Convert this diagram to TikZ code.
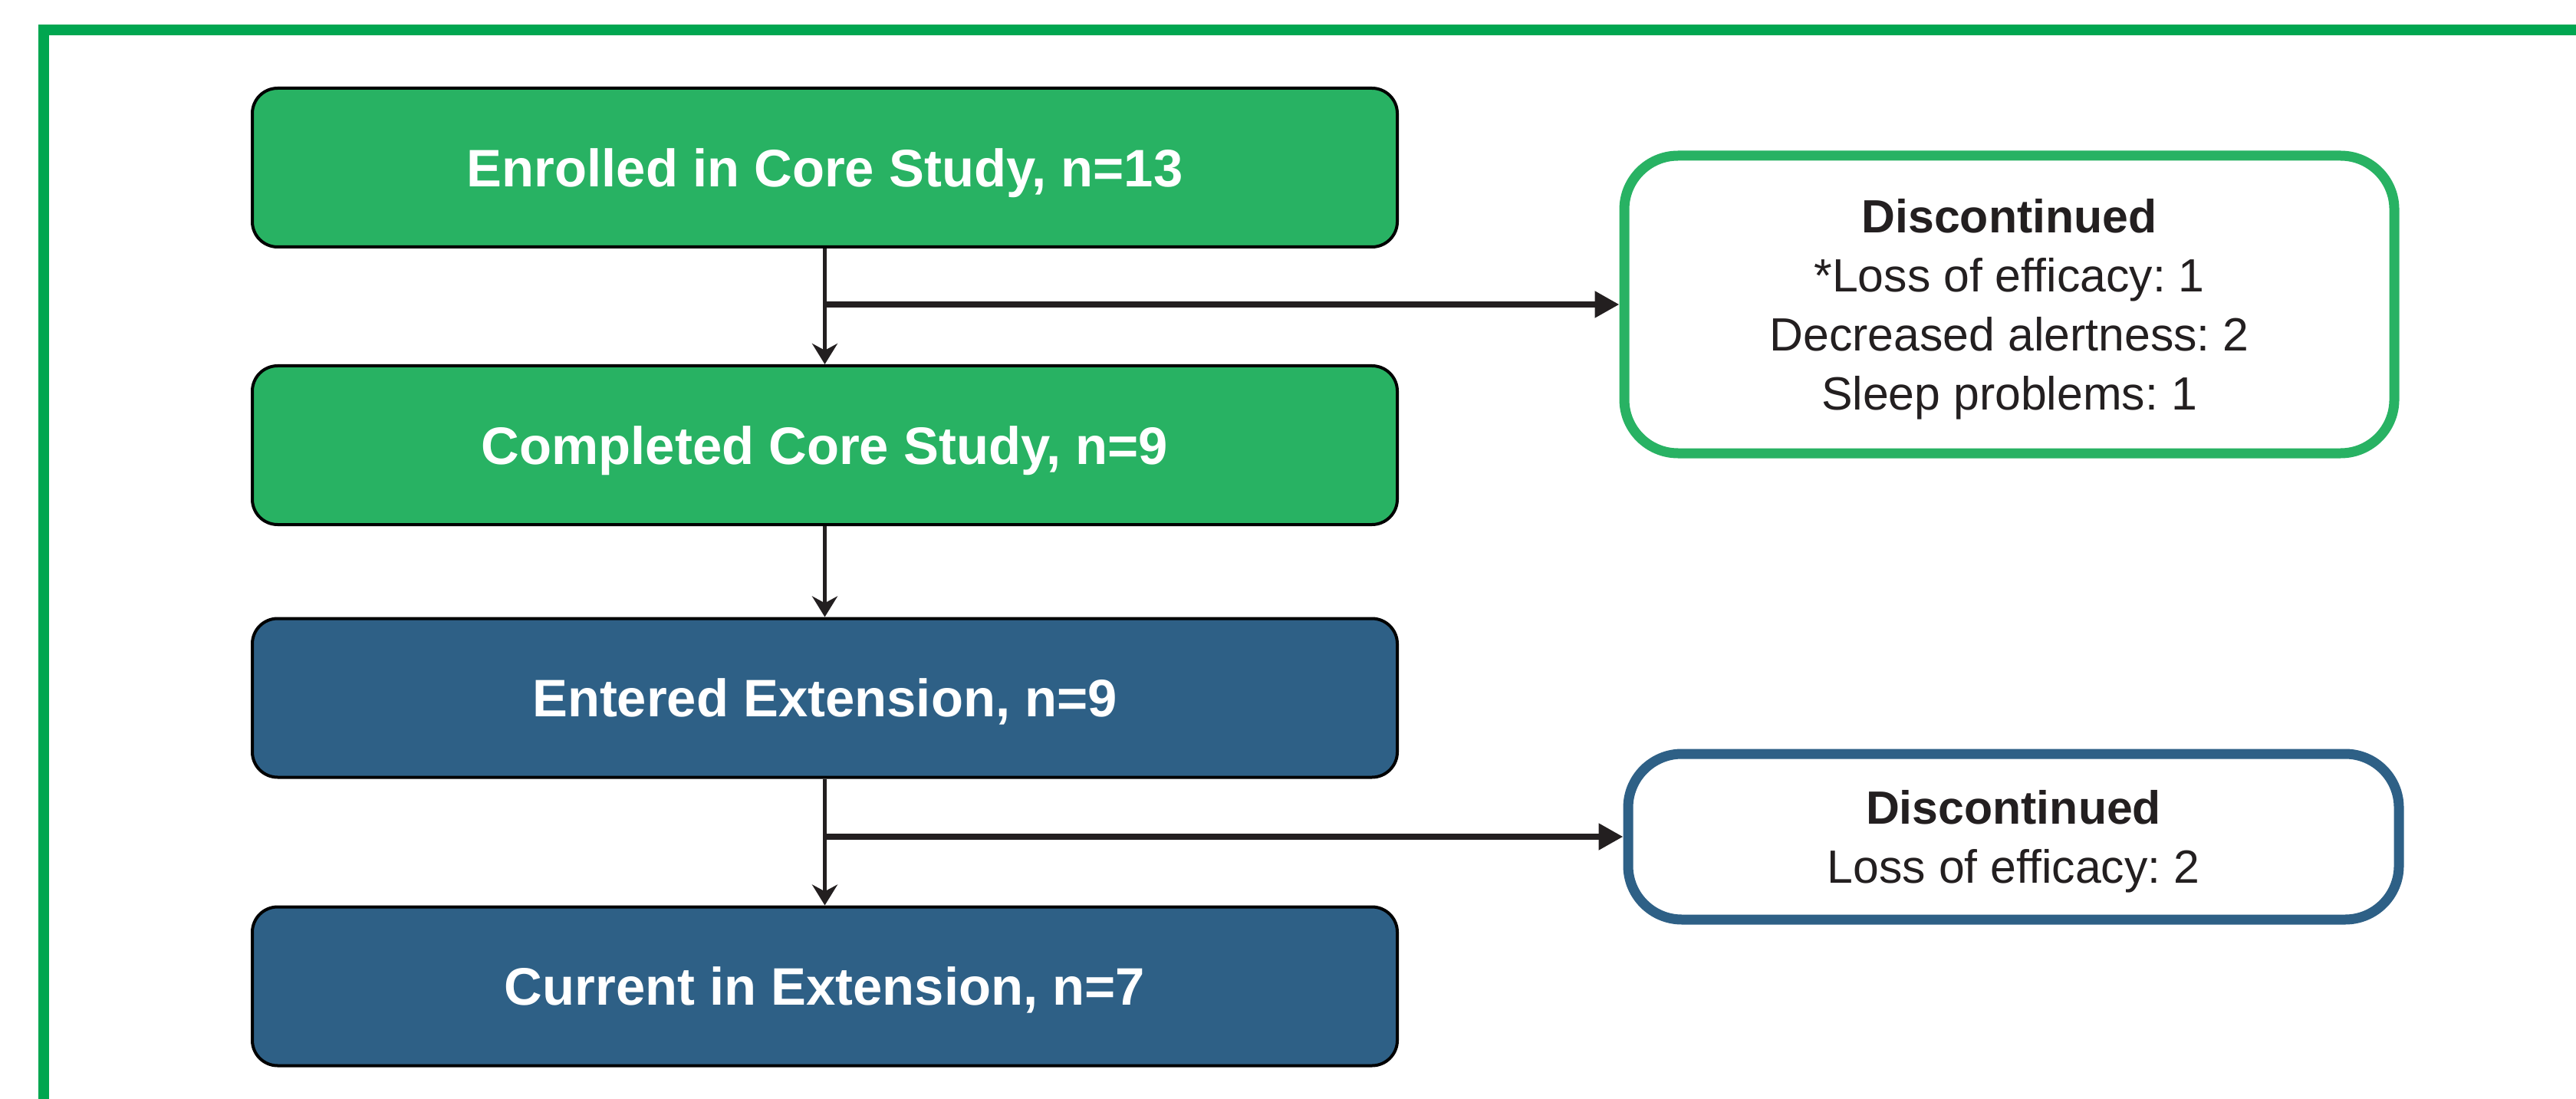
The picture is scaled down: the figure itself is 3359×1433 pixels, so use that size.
\documentclass[tikz,border=0pt]{standalone}
\usepackage{fontspec}
\setmainfont{Liberation Sans}
\usetikzlibrary{arrows.meta}
\frenchspacing

\definecolor{framegreen}{HTML}{00A650}
\definecolor{coregreen}{HTML}{28B263}
\definecolor{extblue}{HTML}{2E6086}
\definecolor{inkdark}{HTML}{231F20}

\begin{document}
\begin{tikzpicture}[x=0.25pt, y=-0.25pt,
  flowbox/.style={draw=black, line width=1pt, rounded corners=8.25pt,
    minimum width=373.25pt, minimum height=51.75pt, inner sep=0pt,
    text=white, text height=12.3pt, text depth=0pt,
    font=\fontsize{17.2pt}{20pt}\selectfont\bfseries},
  coresty/.style={flowbox, fill=coregreen},
  extsty/.style={flowbox, fill=extblue},
  discbox/.style={line width=3.25pt, rounded corners=17.5pt, fill=white,
    minimum width=251pt, inner sep=0pt, align=center, text=inkdark,
    text depth=0pt, font=\fontsize{15.2pt}{19.25pt}\selectfont},
  vline/.style={draw=inkdark, line width=1.25pt,
    -{Stealth[length=6.75pt, width=8.25pt, inset=2.2pt]}},
  hline/.style={draw=inkdark, line width=2pt,
    -{Triangle[length=8pt, width=8.25pt]}}
]
% page and outer frame
\useasboundingbox (0,0) rectangle (3359,1433);
\clip (0,0) rectangle (3359,1433);
\fill[white] (0,0) rectangle (3359,1433);
\draw[framegreen, line width=3.3pt] (57,1480) -- (57,39) -- (3420,39);

% main flow
\node[coresty] (b1) at (1075.5,218.5) {Enrolled in Core Study, n=13};
\node[coresty] (b2) at (1075.5,580.5) {Completed Core Study, n=9};
\node[extsty]  (b3) at (1075.5,910)   {Entered Extension, n=9};
\node[extsty]  (b4) at (1075.5,1286)  {Current in Extension, n=7};

% discontinuation boxes
\node[discbox, draw=coregreen, minimum height=97pt] (d1) at (2620,397)
  {\textbf{Discontinued}\\{}*Loss of efficacy: 1\\Decreased alertness: 2\\Sleep problems: 1};
\node[discbox, draw=extblue, minimum height=54pt, minimum width=251.25pt] (d2) at (2625.5,1091)
  {\textbf{Discontinued}\\Loss of efficacy: 2};

% connectors
\draw[vline] (b1.south) -- (b2.north);
\draw[vline] (b2.south) -- (b3.north);
\draw[vline] (b3.south) -- (b4.north);
\draw[hline] (b1.south |- d1.west) -- (d1.west);
\draw[hline] (b3.south |- d2.west) -- (d2.west);
\end{tikzpicture}
\end{document}
